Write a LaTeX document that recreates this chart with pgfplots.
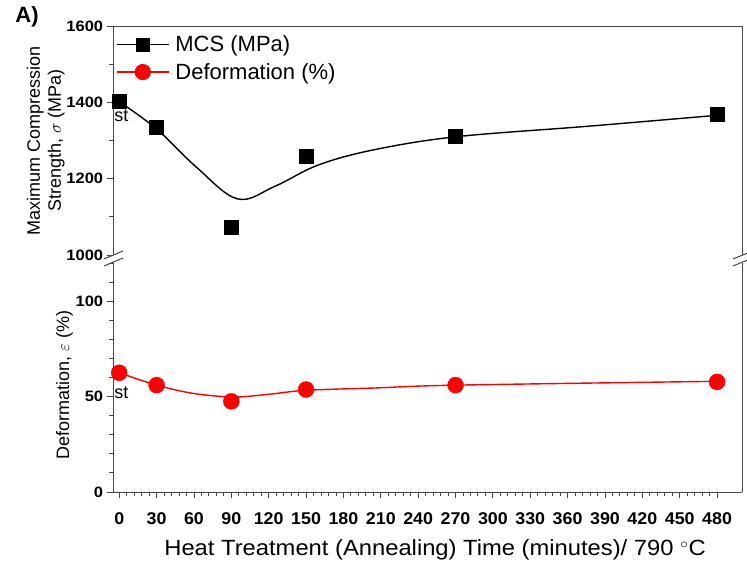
\documentclass[border=0pt]{standalone}
\usepackage{fontspec}
\setmainfont{Liberation Sans}
\usepackage{pgfplots}
\pgfplotsset{compat=1.18}

\definecolor{axgray}{RGB}{70,70,70}

\pgfplotsset{
  brk/.style={
    scale only axis, width=629pt, height=229pt,
    xmin=-5, xmax=500, clip=false,
    tick align=outside,
    major tick length=6pt, minor tick length=4pt,
    axis line style={axgray, line width=1pt},
    every tick/.style={axgray, line width=0.9pt},
    /pgf/number format/assume math mode=true,
    /pgf/number format/1000 sep={},
    yticklabel style={font=\fontsize{15}{17}\selectfont\bfseries, xscale=1.1},
    xticklabel style={font=\fontsize{17}{19}\selectfont\bfseries, xscale=1.05, yshift=-11pt},
    ylabel style={font=\fontsize{18}{21}\selectfont, align=center},
  },
}

\begin{document}
\begin{tikzpicture}
\useasboundingbox (0,0) rectangle (747pt,565pt);

% upper part: compression strength
\begin{axis}[brk,
  at={(113pt,310pt)}, anchor=south west,
  axis x line*=top, axis y line*=left,
  xtick=\empty,
  ymin=1000, ymax=1600,
  ytick={1000,1200,1400,1600}, minor ytick={1100,1300,1500},
  ylabel={Maximum Compression\\Strength, $\sigma$ (MPa)},
  ylabel style={at={(rel axis cs:-0.107,0.5)}, anchor=center},
  legend style={at={(rel axis cs:0.0,0.975)}, anchor=north west, draw=none, fill=none,
    font=\fontsize{22}{25}\selectfont, row sep=6pt,
    /tikz/every odd column/.append style={column sep=4pt}},
  legend cell align=left,
  legend image code/.code={
    \draw[mark repeat=2, mark phase=2, #1] plot coordinates {(0pt,0pt) (26pt,0pt) (52pt,0pt)};},
]
\draw[axgray, line width=1pt] (rel axis cs:1,0) -- (rel axis cs:1,1);
\addlegendimage{black, line width=1.2pt, mark=square*, mark size=6.5pt}
\addlegendentry{MCS (MPa)}
\addlegendimage{red, line width=1.2pt, mark=*, mark size=7.5pt}
\addlegendentry{Deformation (\%)}
% fitted curve
\addplot[black, line width=1.4pt, smooth, tension=0.6] coordinates {
  (0,1402) (30,1330) (62,1230) (95,1147) (125,1180) (160,1236)
  (205,1276) (271,1310) (375,1337) (480,1366)};
% measured
\addplot[only marks, mark=square*, mark size=7pt, black] coordinates {
  (0,1403) (30,1334) (90,1073) (150,1258) (270,1312) (480,1368)};
\node[anchor=north west, font=\fontsize{18}{20}\selectfont, inner sep=0pt] at (axis cs:-4,1380) {st};
\end{axis}

% lower part: deformation
\begin{axis}[brk,
  at={(113pt,73pt)}, anchor=south west,
  axis x line*=bottom, axis y line*=left,
  ymin=0, ymax=120,
  ytick={0,50,100}, minor ytick={10,20,30,40,60,70,80,90,110,120},
  xtick={0,30,...,480}, minor x tick num=4,
  ylabel={Deformation, $\varepsilon$ (\%)},
  ylabel style={at={(rel axis cs:-0.077,0.467)}, anchor=center},
  xlabel={Heat Treatment (Annealing) Time (minutes)/ 790 $^{\circ}$C},
  xlabel style={at={(rel axis cs:0.512,0)}, anchor=center, yshift=-58pt,
    font=\fontsize{22}{25}\selectfont, xscale=1.08},
]
\draw[axgray, line width=1pt] (rel axis cs:1,0) -- (rel axis cs:1,1);
\addplot[red, line width=1.4pt, smooth, tension=0.55] coordinates {
  (0,62.5) (30,56) (60,51.6) (92,49.8) (120,51.2)
  (150,53.3) (205,54.5) (271,56) (480,58)};
\addplot[only marks, mark=*, mark size=8pt, red] coordinates {
  (0,62.5) (30,56) (90,47.5) (150,53.7) (270,56) (480,57.7)};
\node[anchor=north west, font=\fontsize{18}{20}\selectfont, inner sep=0pt] at (axis cs:-4,55) {st};
\end{axis}

% axis break marks
\begin{scope}[axgray, line width=1pt]
\draw (104pt,306pt) -- (123pt,314pt);
\draw (104pt,299pt) -- (123pt,307pt);
\draw (733pt,306pt) -- (750pt,313pt);
\draw (733pt,299pt) -- (750pt,306pt);
\end{scope}

\node[font=\fontsize{22}{24}\selectfont\bfseries] at (27pt,548pt) {A)};
\end{tikzpicture}
\end{document}
